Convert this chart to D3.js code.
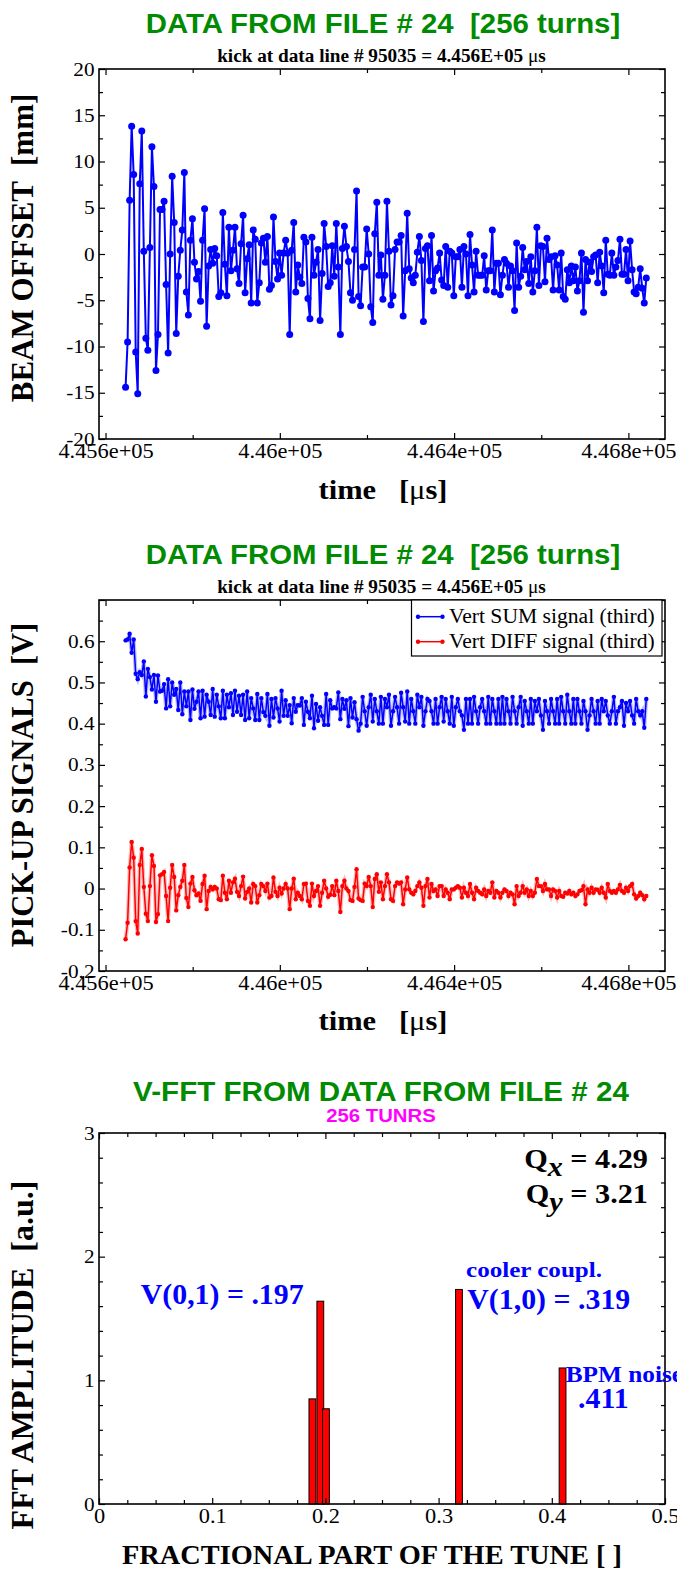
<!DOCTYPE html>
<meta charset="utf-8">
<style>
    body { margin: 0; background: #fff; }
    text { white-space: pre; }
</style>
<script src="https://d3js.org/d3.v7.min.js"></script>
<div id="chart"></div>
<script>

// ---- data ----
var fileTitle = "DATA FROM FILE # 24  [256 turns]";
var kickText = "kick at data line # 95035 = 4.456E+05 ";
var fftTitle = "V-FFT FROM DATA FROM FILE # 24";
var fftSubTitle = "256 TUNRS";

// turn-by-turn sampling (µs)
var t0 = 445646, dt = 4.65;

var offsetValues = [
    -14.4,-9.5,5.8,13.8,8.6,-10.6,-15.1,7.6,13.3,0.3,
    -9.1,-10.4,0.7,11.6,7.3,-12.6,-8.7,4.8,4.8,5.7,
    -3.3,-10.7,0.0,8.4,3.4,-8.6,-2.4,0.4,2.6,8.8,
    -4.1,-6.6,1.5,3.8,-0.9,-2.7,-1.9,-5.1,1.5,4.9,
    -7.8,-1.3,0.5,-1.0,0.6,-0.2,-4.6,-4.2,4.5,-1.1,
    -4.5,2.9,-1.8,0.4,2.9,-1.6,-3.2,1.1,4.2,-4.2,
    -0.5,1.0,-5.3,2.6,1.6,-5.3,-3.1,1.2,1.7,-0.9,
    1.9,-3.8,-3.4,4.0,-0.8,-2.7,0.1,-2.3,0.1,1.5,
    0.1,-8.7,0.4,3.4,-4.1,-1.2,-2.5,-3.2,1.8,1.3,
    -4.8,-7.0,1.8,-2.3,-0.9,0.5,-7.2,-2.1,3.3,0.8,
    -3.5,-3.1,0.9,-2.4,3.3,-1.4,-8.7,0.6,3.0,0.8,
    -0.8,-4.2,-5.0,0.5,6.8,-4.6,
    -5.6,-1.4,-1.4,2.7,0.0,-5.7,-7.4,2.2,5.6,-2.3,
    -0.1,-4.9,-2.3,5.7,0.3,-5.5,-4.5,0.5,1.3,1.3,
    2.0,-6.7,-1.8,4.4,-1.6,-2.6,-3.1,-2.3,0.2,1.9,
    -0.7,-7.3,0.6,0.9,-2.9,2.0,-4.0,-1.8,-1.5,0.1,
    -2.8,-3.4,0.8,-3.6,0.3,0.1,-4.5,-0.3,-0.3,0.5,
    -3.6,0.8,0.0,-4.5,2.1,-1.2,-4.1,0.3,-2.3,-2.3,
    -2.3,-0.2,-3.9,-1.8,-1.8,2.6,-4.1,-1.0,-1.0,-4.4,
    -2.3,-0.6,-1.0,-3.6,-1.3,-1.8,-6.1,1.2,-3.6,-2.4,
    0.7,-1.7,-0.8,-3.2,-0.3,-4.1,-1.8,2.9,-3.4,0.9,
    0.8,-3.0,1.7,-0.6,-0.3,-3.9,-0.2,-1.2,-3.9,0.1,
    -4.6,-4.9,-1.7,-3.1,-1.3,-2.9,-1.4,-4.0,-2.9,0.1,
    -6.3,-0.6,-2.9,-0.9,-1.9,-0.3,-0.1,-3.1,0.2,-1.3,
    -4.2,1.5,-2.2,-2.3,0.1,-2.3,-1.4,-0.7,1.6,-2.2,
    -2.2,0.5,-2.9,1.4,-1.7,-4.1,-4.3,-3.6,-1.6,-3.7,
    -5.3,-2.6
];

var sumValues = [
    0.602,0.604,0.618,0.572,0.604,0.521,0.508,0.525,0.518,0.551,
    0.466,0.533,0.513,0.483,0.518,0.453,0.517,0.478,0.480,0.496,
    0.437,0.508,0.442,0.500,0.470,0.484,0.433,0.500,0.423,0.478,
    0.442,0.478,0.409,0.483,0.436,0.453,0.478,0.413,0.480,0.417,
    0.470,0.453,0.421,0.484,0.417,0.470,0.442,0.413,0.480,0.413,
    0.470,0.440,0.474,0.421,0.480,0.429,0.468,0.421,0.470,0.409,
    0.478,0.413,0.462,0.437,0.409,0.472,0.409,0.462,0.428,0.419,
    0.472,0.395,0.460,0.415,0.462,0.437,0.405,0.480,0.419,0.457,
    0.419,0.445,0.401,0.462,0.429,0.445,0.444,0.462,0.397,0.453,
    0.429,0.413,0.468,0.389,0.448,0.407,0.440,0.419,0.397,0.472,
    0.397,0.457,0.437,0.440,0.437,0.476,0.411,0.460,0.436,0.457,
    0.394,0.462,0.415,0.452,0.411,0.383,
    0.400,0.465,0.430,0.395,0.440,0.470,0.405,0.460,0.430,0.400,
    0.465,0.400,0.460,0.440,0.470,0.395,0.430,0.465,0.440,0.400,
    0.475,0.440,0.405,0.478,0.400,0.460,0.430,0.400,0.470,0.440,
    0.465,0.395,0.430,0.460,0.455,0.430,0.400,0.460,0.400,0.440,
    0.465,0.405,0.460,0.430,0.400,0.465,0.395,0.440,0.460,0.430,
    0.420,0.385,0.460,0.400,0.460,0.400,0.465,0.430,0.400,0.440,
    0.460,0.430,0.400,0.465,0.400,0.460,0.430,0.400,0.460,0.400,
    0.465,0.400,0.460,0.430,0.400,0.465,0.430,0.400,0.440,0.465,
    0.395,0.455,0.430,0.400,0.460,0.400,0.455,0.430,0.460,0.420,
    0.385,0.455,0.430,0.400,0.460,0.430,0.400,0.460,0.400,0.465,
    0.430,0.400,0.470,0.430,0.400,0.460,0.400,0.460,0.430,0.400,
    0.455,0.430,0.385,0.420,0.460,0.430,0.400,0.455,0.400,0.460,
    0.430,0.455,0.420,0.400,0.430,0.465,0.400,0.430,0.440,0.455,
    0.395,0.450,0.430,0.455,0.420,0.400,0.460,0.430,0.420,0.430,
    0.390,0.460
];

var diffValues = [
    -0.123,-0.083,0.051,0.113,0.075,-0.079,-0.109,0.057,0.096,0.004,
    -0.061,-0.079,0.006,0.081,0.055,-0.081,-0.062,0.032,0.035,0.040,
    -0.018,-0.079,0.002,0.057,0.028,-0.053,-0.016,0.004,0.019,0.057,
    -0.023,-0.045,0.012,0.028,-0.004,-0.016,-0.012,-0.030,0.011,0.031,
    -0.050,-0.006,0.004,-0.002,0.004,0.000,-0.026,-0.028,0.031,-0.010,
    -0.026,0.019,-0.010,0.015,0.024,-0.008,-0.018,0.006,0.029,-0.024,
    -0.008,0.000,-0.034,0.011,0.006,-0.034,-0.016,0.011,0.006,-0.006,
    0.012,-0.022,-0.018,0.027,-0.008,-0.018,0.002,-0.012,0.000,0.011,
    0.000,-0.050,0.000,0.024,-0.026,-0.010,-0.018,-0.026,0.011,0.012,
    -0.030,-0.042,0.012,-0.018,-0.006,0.006,-0.042,-0.010,0.019,0.000,
    -0.020,-0.015,0.006,-0.016,0.019,-0.006,-0.057,0.006,0.019,0.000,
    -0.006,-0.028,-0.030,0.004,0.047,-0.024,
    -0.028,-0.030,0.012,0.006,0.028,0.006,-0.045,0.023,0.035,-0.008,
    0.015,-0.026,0.006,0.035,0.015,-0.026,-0.030,0.006,0.015,0.012,
    0.015,-0.038,-0.002,0.027,-0.002,-0.010,-0.014,-0.006,0.006,0.015,
    0.002,-0.042,0.006,0.023,-0.022,0.011,-0.006,-0.002,-0.018,0.006,
    0.006,-0.018,-0.002,-0.010,-0.026,-0.002,-0.002,0.002,0.006,0.002,
    -0.022,0.002,-0.010,-0.018,0.011,-0.010,-0.026,0.002,-0.006,-0.010,
    -0.014,-0.002,-0.018,-0.006,-0.010,0.015,-0.022,-0.006,-0.010,-0.022,
    -0.010,-0.002,-0.006,-0.018,-0.010,-0.014,-0.038,0.006,-0.018,-0.010,
    0.006,-0.010,-0.002,-0.018,-0.006,-0.018,-0.010,0.023,0.006,0.006,
    -0.006,0.011,-0.002,-0.002,-0.018,-0.002,-0.006,-0.022,-0.006,-0.018,
    -0.020,-0.010,-0.012,-0.006,-0.014,-0.010,-0.018,-0.014,-0.006,-0.004,
    0.006,-0.038,-0.002,-0.010,0.002,-0.010,-0.002,-0.003,-0.010,0.002,
    -0.010,-0.022,0.011,-0.006,-0.010,-0.006,-0.010,-0.002,0.009,-0.006,
    -0.010,0.002,-0.006,0.006,0.011,-0.014,-0.024,-0.018,-0.010,-0.016,
    -0.026,-0.018
];

var fftTune = [0.1885, 0.1955, 0.2005, 0.318, 0.4095];
var fftAmp  = [0.85, 1.64, 0.77, 1.735, 1.10];
var fftBarWidth = 0.006;

var timeTicks = [445600, 446000, 446400, 446800];
var timeTickLabels = ["4.456e+05", "4.46e+05", "4.464e+05", "4.468e+05"];
var offsetTicks = [-20, -15, -10, -5, 0, 5, 10, 15, 20];
var offsetTickLabels = ["-20", "-15", "-10", "-5", "0", "5", "10", "15", "20"];
var signalTicks = [-0.2, -0.1, 0, 0.1, 0.2, 0.3, 0.4, 0.5, 0.6, 0.7];
var signalTickLabels = ["-0.2", "-0.1", "0", "0.1", "0.2", "0.3", "0.4", "0.5", "0.6", ""];
var tuneTicks = [0, 0.1, 0.2, 0.3, 0.4, 0.5];
var tuneTickLabels = ["0", "0.1", "0.2", "0.3", "0.4", "0.5"];
var ampTicks = [0, 1, 2, 3];
var ampTickLabels = ["0", "1", "2", "3"];

var legendNames = ["Vert SUM signal (third)", "Vert DIFF signal (third)"];

// ---- drawing ----
var W = 677, H = 1572;
var left = 99, right = 665;
var serif = "'Liberation Serif', 'Times New Roman', serif";
var sans = "'Liberation Sans', Arial, sans-serif";
var green = "#008b00";

var svg = d3.select("#chart")
    .append("svg")
    .attr("width", W)
    .attr("height", H)
    .style("display", "block");

svg.append("rect").attr("width", W).attr("height", H).attr("fill", "#fff");

function addText(x, y, txt, o) {
    var tr = "translate(" + x + "," + y + ")";
    if (o.rotate) tr += " rotate(" + o.rotate + ")";
    tr += " scale(" + (o.sx || 1) + ",1)";
    return svg.append("text")
        .attr("transform", tr)
        .attr("xml:space", "preserve")
        .attr("text-anchor", o.anchor || "start")
        .style("font-family", o.family || serif)
        .style("font-size", o.size + "px")
        .style("font-weight", o.weight || "bold")
        .style("fill", o.fill || "#000")
        .text(txt);
}

function frameAxes(x, y, top, bottom, xt, xl, xMinor, yt, yl, yMinor) {
    var g = svg.append("g");
    var styleTicks = function(sel) {
        sel.select(".domain").remove();
        sel.selectAll("line").attr("stroke", "#000").attr("stroke-width", 1.2);
    };
    // bottom with labels
    g.append("g").attr("transform", "translate(0," + bottom + ")")
        .call(d3.axisBottom(x).tickValues(xt).tickFormat(function(d, i) { return xl[i]; })
            .tickSizeInner(-6).tickSizeOuter(0).tickPadding(5))
        .call(styleTicks)
        .selectAll("text")
        .attr("transform", "scale(1.12,1)")
        .style("font-family", serif).style("font-size", "20px").style("fill", "#000");
    g.append("g").attr("transform", "translate(0," + bottom + ")")
        .call(d3.axisBottom(x).tickValues(xMinor).tickFormat("").tickSizeInner(-4).tickSizeOuter(0))
        .call(styleTicks);
    // top mirror
    g.append("g").attr("transform", "translate(0," + top + ")")
        .call(d3.axisTop(x).tickValues(xt).tickFormat("").tickSizeInner(-6).tickSizeOuter(0))
        .call(styleTicks);
    g.append("g").attr("transform", "translate(0," + top + ")")
        .call(d3.axisTop(x).tickValues(xMinor).tickFormat("").tickSizeInner(-4).tickSizeOuter(0))
        .call(styleTicks);
    // left with labels
    g.append("g").attr("transform", "translate(" + left + ",0)")
        .call(d3.axisLeft(y).tickValues(yt).tickFormat(function(d, i) { return yl[i]; })
            .tickSizeInner(-6).tickSizeOuter(0).tickPadding(4))
        .call(styleTicks)
        .selectAll("text")
        .attr("transform", "scale(1.12,1)")
        .style("font-family", serif).style("font-size", "19px").style("fill", "#000");
    g.append("g").attr("transform", "translate(" + left + ",0)")
        .call(d3.axisLeft(y).tickValues(yMinor).tickFormat("").tickSizeInner(-4).tickSizeOuter(0))
        .call(styleTicks);
    // right mirror
    g.append("g").attr("transform", "translate(" + right + ",0)")
        .call(d3.axisRight(y).tickValues(yt).tickFormat("").tickSizeInner(-6).tickSizeOuter(0))
        .call(styleTicks);
    g.append("g").attr("transform", "translate(" + right + ",0)")
        .call(d3.axisRight(y).tickValues(yMinor).tickFormat("").tickSizeInner(-4).tickSizeOuter(0))
        .call(styleTicks);
    // frame
    g.append("rect")
        .attr("x", left).attr("y", top)
        .attr("width", right - left).attr("height", bottom - top)
        .attr("fill", "none").attr("stroke", "#000").attr("stroke-width", 1.6);
}

function timeOf(d, i) { return t0 + i * dt; }

var x = d3.scaleLinear().domain([445585, 446884]).range([left, right]);
var timeMinor = [445800, 446200, 446600];

// ===== panel 1 : beam offset =====
var y1 = d3.scaleLinear().domain([-20, 20]).range([439, 69]);

addText(383, 33, fileTitle, {family: sans, size: 28, sx: 1.05, fill: green, anchor: "middle"});
var st1 = addText(381.5, 61.7, kickText, {size: 18.5, sx: 1.04, anchor: "middle"});
st1.append("tspan").style("font-weight", "normal").text("\u03bc");
st1.append("tspan").text("s");

var line1 = d3.line().x(function(d, i) { return x(timeOf(d, i)); }).y(function(d) { return y1(d); });
svg.append("path").datum(offsetValues)
    .attr("d", line1).attr("fill", "none").attr("stroke", "#0000ff").attr("stroke-width", 2);
svg.append("g").selectAll("circle").data(offsetValues).enter().append("circle")
    .attr("cx", function(d, i) { return x(timeOf(d, i)); })
    .attr("cy", function(d) { return y1(d); })
    .attr("r", 3.5).attr("fill", "#0000ff");

frameAxes(x, y1, 69, 439, timeTicks, timeTickLabels, timeMinor,
    offsetTicks, offsetTickLabels, d3.range(-17.5, 20, 5));

var tl1 = addText(383, 499, "time   [", {size: 27, sx: 1.13, anchor: "middle"});
tl1.append("tspan").style("font-weight", "normal").text("\u03bc");
tl1.append("tspan").text("s]");
addText(33, 248, "BEAM OFFSET  [mm]", {size: 31, rotate: -90, anchor: "middle"});

// ===== panel 2 : pick-up signals =====
var y2 = d3.scaleLinear().domain([-0.2, 0.7]).range([971, 600]);

addText(383, 564, fileTitle, {family: sans, size: 28, sx: 1.05, fill: green, anchor: "middle"});
var st2 = addText(381.5, 593, kickText, {size: 18.5, sx: 1.04, anchor: "middle"});
st2.append("tspan").style("font-weight", "normal").text("\u03bc");
st2.append("tspan").text("s");

var line2 = d3.line().x(function(d, i) { return x(timeOf(d, i)); }).y(function(d) { return y2(d); });
[[sumValues, "#0000ff"], [diffValues, "#ff0000"]].forEach(function(s) {
    svg.append("path").datum(s[0])
        .attr("d", line2).attr("fill", "none").attr("stroke", s[1])
        .attr("stroke-width", 4).attr("stroke-opacity", 0.25);
    svg.append("path").datum(s[0])
        .attr("d", line2).attr("fill", "none").attr("stroke", s[1]).attr("stroke-width", 1.5);
    svg.append("g").selectAll("circle").data(s[0]).enter().append("circle")
        .attr("cx", function(d, i) { return x(timeOf(d, i)); })
        .attr("cy", function(d) { return y2(d); })
        .attr("r", 2.2).attr("fill", s[1]);
});

frameAxes(x, y2, 600, 971, timeTicks, timeTickLabels, timeMinor,
    signalTicks, signalTickLabels, d3.range(-0.15, 0.7, 0.1));

// legend
svg.append("rect").attr("x", 411.5).attr("y", 600).attr("width", 250.5).attr("height", 56)
    .attr("fill", "#fff").attr("stroke", "#000").attr("stroke-width", 1.2);
var legColors = ["#0000ff", "#ff0000"];
legendNames.forEach(function(name, i) {
    var ly = 616.7 + i * 25;
    svg.append("line").attr("x1", 418).attr("x2", 442.5).attr("y1", ly).attr("y2", ly)
        .attr("stroke", legColors[i]).attr("stroke-width", 1.5);
    svg.selectAll(null).data([418, 442.5]).enter().append("circle")
        .attr("cx", function(d) { return d; }).attr("cy", ly).attr("r", 2.2).attr("fill", legColors[i]);
    addText(449, ly + 6, name, {size: 21.6, weight: "normal"});
});

var tl2 = addText(383, 1030, "time   [", {size: 27, sx: 1.13, anchor: "middle"});
tl2.append("tspan").style("font-weight", "normal").text("\u03bc");
tl2.append("tspan").text("s]");
addText(33, 785, "PICK-UP SIGNALS  [V]", {size: 30.5, rotate: -90, anchor: "middle"});

// ===== panel 3 : FFT =====
var x3 = d3.scaleLinear().domain([0, 0.5]).range([left, right]);
var y3 = d3.scaleLinear().domain([0, 3]).range([1504, 1133]);

addText(381, 1100.7, fftTitle, {family: sans, size: 28, sx: 1.057, fill: green, anchor: "middle"});
addText(381, 1121.7, fftSubTitle, {family: sans, size: 19, sx: 1.07, fill: "#ff00ff", anchor: "middle"});

svg.append("g").selectAll("rect").data(fftTune).enter().append("rect")
    .attr("x", function(d) { return x3(d - fftBarWidth / 2); })
    .attr("y", function(d, i) { return y3(fftAmp[i]); })
    .attr("width", x3(fftBarWidth) - x3(0))
    .attr("height", function(d, i) { return y3(0) - y3(fftAmp[i]); })
    .attr("fill", "#ff0000").attr("stroke", "#000").attr("stroke-width", 1);

frameAxes(x3, y3, 1133, 1504, tuneTicks, tuneTickLabels,
    d3.range(0.025, 0.5, 0.025).filter(function(d) { return Math.abs(d * 10 - Math.round(d * 10)) > 1e-6; }),
    ampTicks, ampTickLabels, d3.range(0.2, 3, 0.2).filter(function(d) { return Math.abs(d - Math.round(d)) > 1e-6; }));

function qLabel(yb, sub, val) {
    var t = addText(648, yb, "Q", {size: 28, sx: 1.08, anchor: "end"});
    t.append("tspan").attr("dy", 8).style("font-style", "italic").text(sub);
    t.append("tspan").attr("dy", -8).text(" = " + val);
}
qLabel(1168, "x", "4.29");
qLabel(1203, "y", "3.21");

var blue = "#0000ff";
addText(140.7, 1304.3, "V(0,1) = .197", {size: 29, sx: 1.03, fill: blue});
addText(466, 1276.7, "cooler coupl.", {size: 22, sx: 1.14, fill: blue});
addText(467.3, 1309, "V(1,0) = .319", {size: 29, sx: 1.03, fill: blue});
addText(565.7, 1381.7, "BPM noise", {size: 23, sx: 1.1, fill: blue});
addText(578, 1408, ".411", {size: 29, sx: 1.03, fill: blue});

addText(372, 1564, "FRACTIONAL PART OF THE TUNE [ ]", {size: 26.5, sx: 1.07, anchor: "middle"});
addText(33, 1355, "FFT AMPLITUDE  [a.u.]", {size: 32, rotate: -90, anchor: "middle"});

</script>
